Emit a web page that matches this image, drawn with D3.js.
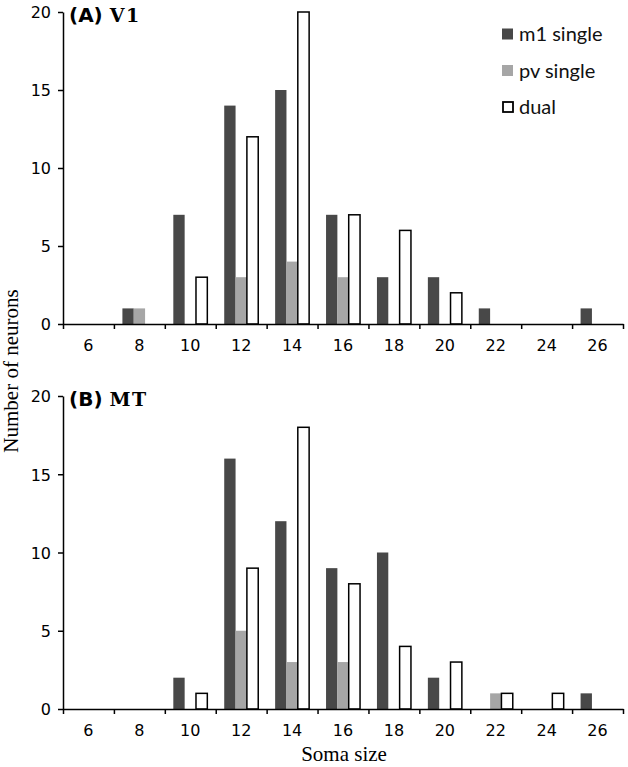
<!DOCTYPE html>
<html><head><meta charset="utf-8">
<script src="https://cdn.jsdelivr.net/npm/d3@7"></script>
<style>body{margin:0;background:#fff}svg{display:block}</style>
</head><body>
<script>
const categories = ["6","8","10","12","14","16","18","20","22","24","26"];
const seriesNames = ["m1 single","pv single","dual"];
const v1_m1   = [0,1,7,14,15,7,3,3,1,0,1];
const v1_pv   = [0,1,0,3,4,3,0,0,0,0,0];
const v1_dual = [0,0,3,12,20,7,6,2,0,0,0];
const mt_m1   = [0,0,2,16,12,9,10,2,0,0,1];
const mt_pv   = [0,0,0,5,3,3,0,0,1,0,0];
const mt_dual = [0,0,1,9,18,8,4,3,1,1,0];
const yTicks = [0,5,10,15,20];

const W = 628, H = 767;
const svg = d3.select("body").append("svg").attr("width", W).attr("height", H);

const colors = {"m1 single":"#484848","pv single":"#a6a6a6","dual":"#ffffff"};
const x = d3.scaleBand().domain(categories).range([63, 623]).padding(0);
const xin = d3.scaleBand().domain(seriesNames).range([8.5, 42.5]).padding(0);
const xEdge = d3.scaleLinear().domain([0, categories.length]).range([63, 623]);

const panels = [
  {prefix:"(A)", name:"V1", top:12, bottom:324, data:[v1_m1, v1_pv, v1_dual]},
  {prefix:"(B)", name:"MT", top:396, bottom:709, data:[mt_m1, mt_pv, mt_dual]}
];

panels.forEach(p => {
  const y = d3.scaleLinear().domain([0,20]).range([p.bottom, p.top]);
  const g = svg.append("g");
  seriesNames.forEach((s, si) => {
    const vals = p.data[si];
    g.selectAll(null).data(categories.map((c,i)=>({c, v:vals[i]})).filter(d=>d.v>0))
      .enter().append("rect")
      .attr("x", d => x(d.c) + xin(s))
      .attr("y", d => y(d.v))
      .attr("width", xin.bandwidth())
      .attr("height", d => y(0) - y(d.v))
      .attr("fill", colors[s])
      .attr("stroke", s === "dual" ? "#000" : "none")
      .attr("stroke-width", 1.5);
  });
  const ya = g.append("g").attr("transform", `translate(63,0)`)
    .call(d3.axisLeft(y).tickValues(yTicks).tickSize(5).tickSizeOuter(0).tickPadding(7));
  ya.selectAll("text").attr("font-family","DejaVu Sans, Verdana, sans-serif").attr("font-size",16).attr("fill","#000").attr("dy","0.36em");
  ya.selectAll("path,line").attr("stroke","#000").attr("stroke-width",1.5);
  const xe = g.append("g").attr("transform", `translate(0,${p.bottom})`)
    .call(d3.axisBottom(xEdge).tickValues(d3.range(categories.length+1)).tickFormat("").tickSize(5).tickSizeOuter(0));
  xe.selectAll("path,line").attr("stroke","#000").attr("stroke-width",1.5);
  const xl = g.append("g").attr("transform", `translate(0,${p.bottom})`)
    .call(d3.axisBottom(x).tickSize(0).tickPadding(16));
  xl.select(".domain").remove();
  xl.selectAll("text").attr("font-family","DejaVu Sans, Verdana, sans-serif").attr("font-size",16).attr("fill","#000");
  const t = g.append("text").attr("x", 69).attr("y", p.top + 10).attr("fill","#000");
  t.append("tspan").attr("font-family","DejaVu Sans, Verdana, sans-serif").attr("font-weight","bold").attr("font-size",20).text(p.prefix + " ");
  t.append("tspan").attr("font-family","DejaVu Serif, serif").attr("font-weight","bold").attr("font-size",19).attr("letter-spacing",1.5).text(p.name);
});

const leg = svg.append("g");
seriesNames.forEach((s, i) => {
  const cy = 34 + i * 36.5;
  leg.append("rect").attr("x", s==="dual"?503:502).attr("y", cy - (s==="dual"?5:5.5)).attr("width", s==="dual"?10:11).attr("height", s==="dual"?10:11)
    .attr("fill", colors[s]).attr("stroke", s==="dual" ? "#000" : "none").attr("stroke-width", 1.8);
  leg.append("text").attr("x", 519).attr("y", cy).attr("dy","0.35em")
    .attr("font-family","Lato, Open Sans, sans-serif").attr("font-size",20).attr("fill","#111").text(s);
});

svg.append("text").attr("transform","translate(18,371) rotate(-90)").attr("text-anchor","middle")
  .attr("font-family","Liberation Serif, Times New Roman, serif").attr("font-size",21).attr("fill","#000").text("Number of neurons");
svg.append("text").attr("x", 344).attr("y", 761).attr("text-anchor","middle")
  .attr("font-family","Liberation Serif, Times New Roman, serif").attr("font-size",21).attr("fill","#000").text("Soma size");
</script>
</body></html>
